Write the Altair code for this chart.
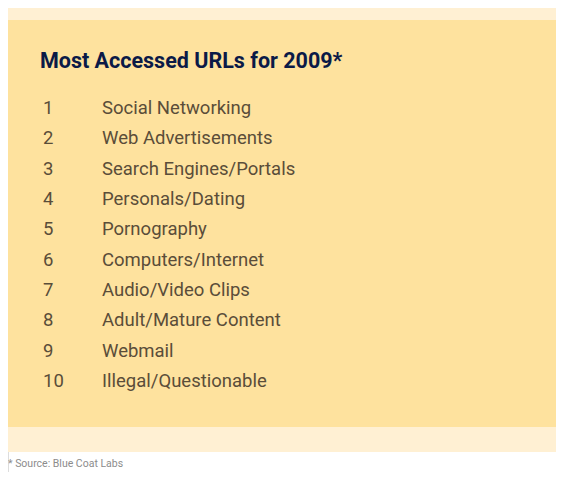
import altair as alt
import pandas as pd

title_text = ["Most Accessed URLs for 2009*"]
ranks = [1, 2, 3, 4, 5, 6, 7, 8, 9, 10]
categories = [
    "Social Networking",
    "Web Advertisements",
    "Search Engines/Portals",
    "Personals/Dating",
    "Pornography",
    "Computers/Internet",
    "Audio/Video Clips",
    "Adult/Mature Content",
    "Webmail",
    "Illegal/Questionable",
]
source_note = ["* Source: Blue Coat Labs"]

W, H = 548, 464
LIGHT = "#FFF0D3"
MAIN = "#FEE29E"
TEXT = "#5A4D39"
NAVY = "#0B1A47"

rows = pd.DataFrame({"rank": ranks, "label": categories, "num": [str(r) for r in ranks]})
one = pd.DataFrame({"k": [0]})

yscale = alt.Scale(domain=[1, 10], range=[100, 373])

light_band = alt.Chart(one).mark_rect(color=LIGHT).encode(
    x=alt.value(-6), x2=alt.value(W), y=alt.value(-8), y2=alt.value(444)
)
main_band = alt.Chart(one).mark_rect(color=MAIN).encode(
    x=alt.value(-6), x2=alt.value(W), y=alt.value(12), y2=alt.value(419)
)

title = alt.Chart(pd.DataFrame({"t": title_text})).mark_text(
    font="Roboto", fontSize=21.5, fontWeight="bold", color=NAVY, align="left", baseline="alphabetic"
).encode(x=alt.value(32), y=alt.value(60), text="t:N")

nums = alt.Chart(rows).mark_text(
    font="Roboto", fontSize=18.5, color=TEXT, align="left", baseline="middle"
).encode(
    x=alt.value(35),
    y=alt.Y("rank:Q", scale=yscale, axis=None),
    text="num:N",
)

labels = alt.Chart(rows).mark_text(
    font="Roboto", fontSize=18.5, color=TEXT, align="left", baseline="middle"
).encode(
    x=alt.value(94),
    y=alt.Y("rank:Q", scale=yscale, axis=None),
    text="label:N",
)

source = alt.Chart(pd.DataFrame({"s": source_note})).mark_text(
    font="Roboto", fontSize=10.5, color="#8C8C8C", align="left", baseline="middle"
).encode(x=alt.value(0), y=alt.value(456), text="s:N")

chart = alt.layer(light_band, main_band, title, nums, labels, source).properties(
    width=W, height=H, autosize=alt.AutoSizeParams(type="none"), padding=0
).configure_view(stroke=None).configure(background="white")

chart.save("out.html", embed_options={"renderer": "svg", "actions": False})
